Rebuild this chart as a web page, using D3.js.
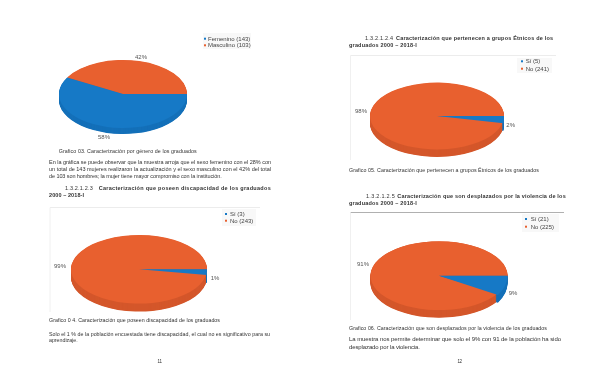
<!DOCTYPE html>
<html><head><meta charset="utf-8">
<script src="https://cdn.jsdelivr.net/npm/d3@7/dist/d3.min.js"></script>
<style>html,body{margin:0;padding:0;background:#fff}svg{display:block}
text{font-family:"Liberation Sans",Arial,sans-serif}
.soft{filter:blur(0.3px)}</style>
</head><body><svg id="c" width="600" height="388"></svg>
<script>
// ---- data ----
const genderCats = ["Femenino", "Masculino"];
const genderValues = [143, 103];
const disabilityCats = ["Sí", "No"];
const disabilityValues = [3, 243];
const ethnicCats = ["Sí", "No"];
const ethnicValues = [5, 241];
const displacedCats = ["Sí", "No"];
const displacedValues = [21, 225];
const seriesColors = ["#1679c6", "#e8602f"];
const wallColors = ["#1470b9", "#d4572b"];

// ---- layout ----
// spread: the source's 3-D perspective makes the front-right slice look taller
const charts = [
  {cats: genderCats, values: genderValues, cx: 123, cy: 94, rx: 64, ry: 34, depth: 6, spread: 1,
   labels: [[104, 137], [141, 57]], legend: {x: 203, y: 33, w: 48, h: 16, sx: 205, tx: 208, y1: 38.7, y2: 45.3}},
  {cats: disabilityCats, values: disabilityValues, cx: 139, cy: 269.3, rx: 68, ry: 34.3, depth: 8, spread: 2.2,
   labels: [[215, 278], [60, 266]], legend: {x: 222, y: 209, w: 34, h: 17, sx: 226, tx: 230, y1: 214, y2: 220.7}},
  {cats: ethnicCats, values: ethnicValues, cx: 437, cy: 116, rx: 67, ry: 33.4, depth: 7.5, spread: 1.7,
   labels: [[510.7, 125], [361, 111]], legend: {x: 517, y: 58, w: 35, h: 15, sx: 522, tx: 525.7, y1: 61.3, y2: 68.7}},
  {cats: displacedCats, values: displacedValues, cx: 439, cy: 275.7, rx: 68.5, ry: 34.4, depth: 7.6, spread: 1.1,
   labels: [[513, 293], [363, 263.7]], legend: {x: 522, y: 214, w: 37, h: 18, sx: 526, tx: 530.7, y1: 219, y2: 226.7}}
];
const frames = [
  {x1: 50, x2: 260, y1: 207.5, y2: 312, top: "#ececec"},
  {x1: 350.5, x2: 556, y1: 55.5, y2: 160, top: "#ececec"},
  {x1: 350.5, x2: 564, y1: 212.5, y2: 320, top: "#b0b0b0"}
];
// [text, x start, x end, y centre, font size, weight]
const textLines = [
  ["Grafico 03. Caracterización por género de los graduados", 58.7, 196.7, 151, 5.3, 400],
  ["En la gráfica se puede observar que la muestra arroja que el sexo femenino con el 28% con", 49, 271, 161.7, 5.5, 400],
  ["un total de 143 mujeres realizaron la actualización y el sexo masculino con el 42%  del total", 49, 271, 169, 5.5, 400],
  ["de 103 son hombres; la mujer tiene mayor compromiso con la institución.", 49, 221.7, 176, 5.5, 400],
  ["1.3.2.1.2.3", 65, 92.7, 187.7, 5.5, 400],
  ["Caracterización que poseen discapacidad de los graduados", 98.7, 270.7, 187.7, 5.5, 700],
  ["2000 – 2018-I", 49, 84, 195, 5.5, 700],
  ["Grafico 0 4. Caracterización que poseen discapacidad de los graduados", 49, 220, 320.3, 5.3, 400],
  ["Solo el 1 % de la población encuestada tiene discapacidad, el cual no es significativo para su", 49, 270, 334.3, 5.3, 400],
  ["aprendizaje.", 49, 77.7, 340.3, 5.3, 400],
  ["11", 157.5, 162, 361.3, 4.5, 400],
  ["1.3.2.1.2.4", 365, 393, 38, 5.5, 400],
  ["Caracterización que pertenecen a grupos Étnicos de los", 396, 553, 38, 5.5, 700],
  ["graduados 2000 – 2018-I", 349, 416.7, 45.3, 5.5, 700],
  ["Grafico 05. Caracterización que pertenecen a grupos Étnicos de los graduados", 349, 539, 170.3, 5.3, 400],
  ["1.3.2.1.2.5", 366, 394.7, 196, 5.5, 400],
  ["Caracterización que son desplazados por la violencia de los", 397.3, 565.7, 196, 5.5, 700],
  ["graduados 2000 – 2018-I", 349, 416.7, 203.3, 5.5, 700],
  ["Grafico 06. Caracterización que son desplazados por la violencia de los graduados", 349, 547, 328, 5.3, 400],
  ["La muestra nos permite determinar que solo el 9% con 91 de la población ha sido", 349, 561, 339, 6, 400],
  ["desplazado por la violencia.", 349, 420, 347.3, 6, 400],
  ["12", 457.5, 462, 361.3, 4.5, 400]
];

const svg = d3.select("#c");
const pct = d3.format(".0%");

function tiny(sel, x, y, str, size, fill) {
  return sel.append("text").attr("x", x).attr("y", y).attr("dominant-baseline", "central")
    .attr("font-size", size).attr("fill", fill).text(str);
}

frames.forEach(f => {
  const g = svg.append("g").attr("fill", "none");
  g.append("line").attr("x1", f.x1).attr("x2", f.x2).attr("y1", f.y1).attr("y2", f.y1).attr("stroke", f.top);
  g.append("line").attr("x1", f.x1).attr("x2", f.x1).attr("y1", f.y1).attr("y2", f.y2).attr("stroke", "#f0f0f0");
});

charts.forEach(c => {
  const pie = d3.pie().sort(null).startAngle(Math.PI / 2).endAngle(Math.PI * 2.5);
  const arcs = pie(c.values).slice().reverse(); // "No" first, the "Sí" slice on top of it
  const arc = d3.arc().innerRadius(0).outerRadius(c.rx);
  const total = d3.sum(c.values);
  const g = svg.append("g");
  const k = c.ry / c.rx;
  const sliceTransform = d => d.index === 0 ? `scale(1,${c.spread})` : null;
  // side wall: stacked copies of the slices, back to front
  for (let o = c.depth; o > 0; o -= 0.5) {
    g.append("g").attr("transform", `translate(${c.cx},${c.cy + o}) scale(1,${k})`)
      .selectAll("path").data(arcs).join("path")
      .attr("d", arc).attr("transform", sliceTransform).attr("fill", d => wallColors[d.index]);
  }
  g.append("g").attr("transform", `translate(${c.cx},${c.cy}) scale(1,${k})`)
    .selectAll("path").data(arcs).join("path")
    .attr("d", arc).attr("transform", sliceTransform).attr("fill", d => seriesColors[d.index]);
  // percentage labels
  const soft = g.append("g").attr("class", "soft");
  c.values.forEach((v, i) => {
    tiny(soft, c.labels[i][0], c.labels[i][1], pct(v / total), 6, "#555").attr("text-anchor", "middle");
  });
  // legend
  const l = c.legend;
  g.insert("rect", ":first-child").attr("x", l.x).attr("y", l.y).attr("width", l.w).attr("height", l.h)
    .attr("fill", "#f8f8f8");
  [l.y1, l.y2].forEach((y, i) => {
    g.append("rect").attr("x", l.sx - 1).attr("y", y - 1).attr("width", 2).attr("height", 2)
      .attr("fill", seriesColors[i]);
    tiny(soft, l.tx, y, `${c.cats[i]} (${c.values[i]})`, 6, "#444");
  });
});

const t = svg.append("g").attr("class", "soft");
textLines.forEach(([s, x1, x2, y, size, weight]) => {
  tiny(t, x1, y, s, size, "#333").attr("font-weight", weight)
    .attr("textLength", x2 - x1).attr("lengthAdjust", "spacing");
});
</script></body></html>
